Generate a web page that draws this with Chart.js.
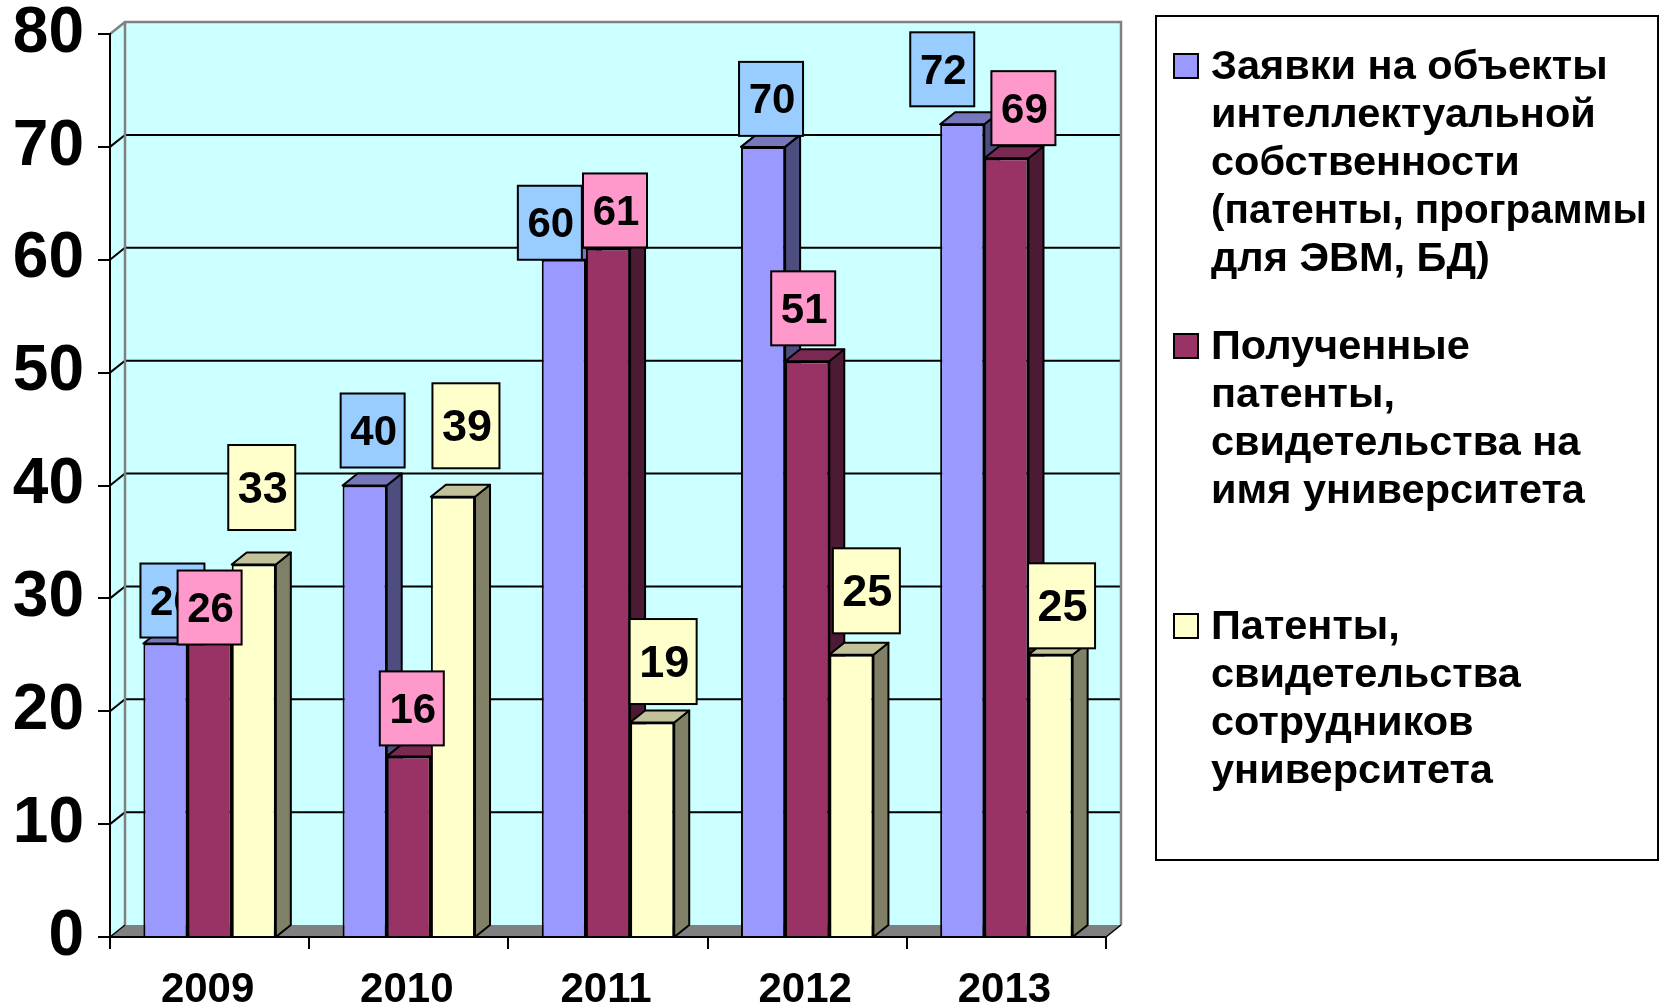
<!DOCTYPE html>
<html>
<head>
<meta charset="utf-8">
<title>Chart</title>
<script src="https://cdn.jsdelivr.net/npm/chart.js@4"></script>
<style>
    html, body { margin: 0; padding: 0; background: #fff; }
    #wrap { position: relative; width: 1661px; height: 1005px; overflow: hidden; }
</style>
</head>
<body>
<div id="wrap"><canvas id="chart"></canvas></div>
<script>
const years = ['2009', '2010', '2011', '2012', '2013'];
const applications = [26, 40, 60, 70, 72];
const received = [26, 16, 61, 51, 69];
const staffPatents = [33, 39, 19, 25, 25];

const seriesNames = [
    'Заявки на объекты интеллектуальной собственности (патенты, программы для ЭВМ, БД)',
    'Полученные патенты, свидетельства на имя университета',
    'Патенты, свидетельства сотрудников университета'
];
const legendLines = [
    ['Заявки на объекты', 'интеллектуальной', 'собственности', '(патенты, программы', 'для ЭВМ, БД)'],
    ['Полученные', 'патенты,', 'свидетельства на', 'имя университета'],
    ['Патенты,', 'свидетельства', 'сотрудников', 'университета']
];

const frontColors = ['#9999FF', '#993366', '#FFFFCC'];
const sideColors = ['#4D4D80', '#4D1A33', '#808066'];
const topColors = ['#7777BB', '#7A2952', '#C2C29A'];
const labelColors = ['#99CCFF', '#FF99CC', '#FFFFCC'];

// hand-placed data labels in the original: box centre relative to the bar top
const labelOffsets = [
    [[7, -43], [8, -55], [-14, -37], [8, -48], [-20, -55]],
    [[0, -36], [3, -48], [7, -38], [-4, -53], [17, -50]],
    [[8, -77], [13, -71], [11, -61], [15, -64], [11, -49]]
];
const labelSizes = [[64, 74], [64, 74], [67, 85]];
const labelFonts = [42, 42, 45];

const DEPTH_X = 15;
const DEPTH_Y = 12;
const FONT = "'Liberation Sans', Arial, sans-serif";

function poly(ctx, pts, fill, stroke, width) {
    ctx.beginPath();
    pts.forEach(function(p, i) {
        if (i === 0) ctx.moveTo(p[0], p[1]);
        else ctx.lineTo(p[0], p[1]);
    });
    ctx.closePath();
    if (fill) {
        ctx.fillStyle = fill;
        ctx.fill();
    }
    if (stroke) {
        ctx.strokeStyle = stroke;
        ctx.lineWidth = width;
        ctx.stroke();
    }
}

// walls, floor and gridlines of the fake 3D box
const wallsPlugin = {
    id: 'walls',
    beforeDraw: function(chart) {
        const ctx = chart.ctx;
        const a = chart.chartArea;
        const y = chart.scales.y;
        ctx.save();
        poly(ctx, [[a.left, a.top], [a.left + DEPTH_X, a.top - DEPTH_Y], [a.right + DEPTH_X, a.top - DEPTH_Y],
            [a.right + DEPTH_X, a.bottom - DEPTH_Y], [a.right, a.bottom], [a.left, a.bottom]], '#CCFFFF');
        poly(ctx, [[a.left, a.bottom], [a.left + DEPTH_X, a.bottom - DEPTH_Y],
            [a.right + DEPTH_X, a.bottom - DEPTH_Y], [a.right, a.bottom]], '#808080');

        ctx.strokeStyle = '#000';
        ctx.lineWidth = 2;
        y.ticks.forEach(function(t) {
            if (t.value === 0 || t.value === 80) return;
            const py = y.getPixelForValue(t.value);
            ctx.beginPath();
            ctx.moveTo(a.left, py);
            ctx.lineTo(a.left + DEPTH_X, py - DEPTH_Y);
            ctx.lineTo(a.right + DEPTH_X, py - DEPTH_Y);
            ctx.stroke();
        });

        ctx.strokeStyle = '#808080';
        ctx.lineWidth = 2.5;
        ctx.beginPath();
        ctx.moveTo(a.left, a.top);
        ctx.lineTo(a.left + DEPTH_X, a.top - DEPTH_Y);
        ctx.lineTo(a.right + DEPTH_X, a.top - DEPTH_Y);
        ctx.lineTo(a.right + DEPTH_X, a.bottom - DEPTH_Y);
        ctx.moveTo(a.left + DEPTH_X, a.top - DEPTH_Y);
        ctx.lineTo(a.left + DEPTH_X, a.bottom - DEPTH_Y);
        ctx.stroke();

        // front end of the floor
        ctx.strokeStyle = '#000';
        ctx.lineWidth = 1.5;
        ctx.beginPath();
        ctx.moveTo(a.right, a.bottom);
        ctx.lineTo(a.right + DEPTH_X, a.bottom - DEPTH_Y);
        ctx.moveTo(a.left, a.bottom);
        ctx.lineTo(a.left + DEPTH_X, a.bottom - DEPTH_Y);
        ctx.stroke();
        ctx.restore();
    },
    // side and top faces go under all the front faces, left to right
    beforeDatasetsDraw: function(chart) {
        const ctx = chart.ctx;
        const base = chart.scales.y.getPixelForValue(0);
        ctx.save();
        ctx.lineJoin = 'round';
        years.forEach(function(year, i) {
            chart.data.datasets.forEach(function(ds, d) {
                const bar = chart.getDatasetMeta(d).data[i];
                const half = bar.width / 2;
                const l = bar.x - half;
                const r = bar.x + half;
                poly(ctx, [[r, bar.y], [r + DEPTH_X, bar.y - DEPTH_Y], [r + DEPTH_X, base - DEPTH_Y], [r, base]],
                    sideColors[d], '#000', 2);
                poly(ctx, [[l, bar.y], [l + DEPTH_X, bar.y - DEPTH_Y], [r + DEPTH_X, bar.y - DEPTH_Y], [r, bar.y]],
                    topColors[d], '#000', 2);
            });
        });
        ctx.restore();
    }
};

const boxLabelsPlugin = {
    id: 'boxLabels',
    afterDatasetsDraw: function(chart) {
        const ctx = chart.ctx;
        ctx.save();
        ctx.textAlign = 'center';
        ctx.textBaseline = 'middle';
        chart.data.datasets.forEach(function(ds, d) {
            const w = labelSizes[d][0];
            const h = labelSizes[d][1];
            chart.getDatasetMeta(d).data.forEach(function(bar, i) {
                const cx = bar.x + labelOffsets[d][i][0];
                const cy = bar.y + labelOffsets[d][i][1];
                ctx.fillStyle = labelColors[d];
                ctx.strokeStyle = '#000';
                ctx.lineWidth = 2;
                ctx.fillRect(cx - w / 2, cy - h / 2, w, h);
                ctx.strokeRect(cx - w / 2, cy - h / 2, w, h);
                ctx.fillStyle = '#000';
                ctx.font = 'bold ' + labelFonts[d] + 'px ' + FONT;
                ctx.fillText(String(ds.data[i]), cx + 1, cy + 3);
            });
        });
        ctx.restore();
    }
};

// wrapped legend in its own frame, to the right of the plot
const legendBoxPlugin = {
    id: 'legendBox',
    afterDraw: function(chart) {
        const ctx = chart.ctx;
        const tops = [68, 348, 628];
        ctx.save();
        ctx.fillStyle = '#fff';
        ctx.strokeStyle = '#000';
        ctx.lineWidth = 2;
        ctx.fillRect(1156, 16, 502, 844);
        ctx.strokeRect(1156, 16, 502, 844);
        ctx.textAlign = 'left';
        ctx.textBaseline = 'middle';
        ctx.font = 'bold 41.5px ' + FONT;
        legendLines.forEach(function(lines, d) {
            ctx.fillStyle = frontColors[d];
            ctx.fillRect(1174, tops[d] - 14, 24, 24);
            ctx.strokeRect(1174, tops[d] - 14, 24, 24);
            ctx.fillStyle = '#000';
            lines.forEach(function(line, n) {
                ctx.fillText(line, 1211, tops[d] + n * 48, 436);
            });
        });
        ctx.restore();
    }
};

new Chart(document.getElementById('chart').getContext('2d'), {
    type: 'bar',
    data: {
        labels: years,
        datasets: [applications, received, staffPatents].map(function(values, d) {
            return {
                label: seriesNames[d],
                data: values,
                backgroundColor: frontColors[d],
                borderColor: '#000',
                borderWidth: 2,
                barPercentage: 1,
                categoryPercentage: 0.665
            };
        })
    },
    options: {
        responsive: true,
        maintainAspectRatio: false,
        animation: false,
        layout: { padding: { left: 0, top: 34, right: 555, bottom: 0 } },
        plugins: {
            legend: { display: false },
            tooltip: { enabled: false }
        },
        scales: {
            x: {
                afterFit: function(scale) {
                    scale.height = 68;
                    scale.paddingLeft = 0;
                    scale.paddingRight = 0;
                },
                border: { color: '#000', width: 2 },
                grid: { drawOnChartArea: false, color: '#000', lineWidth: 2, tickLength: 12 },
                ticks: {
                    color: '#000',
                    maxRotation: 0,
                    padding: 16,
                    labelOffset: -2,
                    font: { family: FONT, size: 42, weight: 'bold' }
                }
            },
            y: {
                min: 0,
                max: 80,
                afterFit: function(scale) {
                    // big tick labels would otherwise push the plot down
                    scale.width = 110;
                    scale.paddingTop = 0;
                    scale.paddingBottom = 0;
                },
                border: { color: '#000', width: 2 },
                grid: { drawOnChartArea: false, color: '#000', lineWidth: 2, tickLength: 12 },
                ticks: {
                    stepSize: 10,
                    color: '#000',
                    padding: 14,
                    font: { family: FONT, size: 64, weight: 'bold' }
                }
            }
        }
    },
    plugins: [wallsPlugin, boxLabelsPlugin, legendBoxPlugin]
});
</script>
</body>
</html>
